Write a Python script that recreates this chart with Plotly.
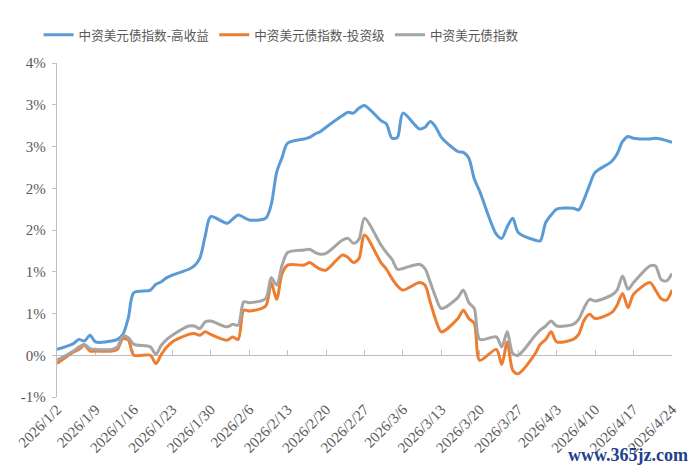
import plotly.graph_objects as go

dates = [
    "2026-01-02",
    "2026-01-05", "2026-01-06", "2026-01-07", "2026-01-08", "2026-01-09",
    "2026-01-12", "2026-01-13", "2026-01-14", "2026-01-15", "2026-01-16",
    "2026-01-19", "2026-01-20", "2026-01-21", "2026-01-22", "2026-01-23",
    "2026-01-26", "2026-01-27", "2026-01-28", "2026-01-29", "2026-01-30",
    "2026-02-02", "2026-02-03", "2026-02-04", "2026-02-05", "2026-02-06",
    "2026-02-09", "2026-02-10", "2026-02-11", "2026-02-12", "2026-02-13",
    "2026-02-16", "2026-02-17", "2026-02-18", "2026-02-19", "2026-02-20",
    "2026-02-23", "2026-02-24", "2026-02-25", "2026-02-26", "2026-02-27",
    "2026-03-02", "2026-03-03", "2026-03-04", "2026-03-05", "2026-03-06",
    "2026-03-09", "2026-03-10", "2026-03-11", "2026-03-12", "2026-03-13",
    "2026-03-16", "2026-03-17", "2026-03-18", "2026-03-19", "2026-03-20",
    "2026-03-23", "2026-03-24", "2026-03-25", "2026-03-26", "2026-03-27",
    "2026-03-30", "2026-03-31", "2026-04-01", "2026-04-02", "2026-04-03",
    "2026-04-06", "2026-04-07", "2026-04-08", "2026-04-09", "2026-04-10",
    "2026-04-13", "2026-04-14", "2026-04-15", "2026-04-16", "2026-04-17",
    "2026-04-20", "2026-04-21", "2026-04-22", "2026-04-23", "2026-04-24",
]

high_yield = [
    0.07,
    0.14, 0.19, 0.17, 0.24, 0.16,
    0.17, 0.19, 0.25, 0.45, 0.75,
    0.78, 0.85, 0.88, 0.93, 0.96,
    1.03, 1.07, 1.16, 1.43, 1.66,
    1.58, 1.63, 1.68, 1.65, 1.62,
    1.64, 1.80, 2.19, 2.37, 2.54,
    2.59, 2.61, 2.65, 2.68, 2.73,
    2.87, 2.91, 2.90, 2.96, 2.99,
    2.81, 2.77, 2.60, 2.61, 2.90,
    2.71, 2.73, 2.80, 2.73, 2.61,
    2.44, 2.43, 2.36, 2.11, 1.96,
    1.45, 1.40, 1.54, 1.64, 1.47,
    1.38, 1.37, 1.59, 1.68, 1.75,
    1.76, 1.74, 1.87, 2.04, 2.19,
    2.32, 2.41, 2.56, 2.62, 2.60,
    2.59, 2.60, 2.59, 2.57, 2.55,
]

invest_grade = [
    -0.10,
    0.04, 0.07, 0.12, 0.05, 0.05,
    0.05, 0.07, 0.20, 0.18, 0.00,
    0.00, -0.10, 0.01, 0.10, 0.16,
    0.25, 0.26, 0.24, 0.28, 0.25,
    0.18, 0.22, 0.19, 0.54, 0.53,
    0.59, 0.87, 0.67, 0.98, 1.08,
    1.08, 1.11, 1.07, 1.03, 1.02,
    1.20, 1.17, 1.11, 1.16, 1.44,
    1.11, 1.03, 0.92, 0.83, 0.78,
    0.87, 0.84, 0.63, 0.42, 0.28,
    0.44, 0.54, 0.44, 0.38, -0.06,
    0.07, -0.11, 0.16, -0.18, -0.22,
    0.01, 0.13, 0.19, 0.28, 0.16,
    0.19, 0.25, 0.42, 0.49, 0.44,
    0.51, 0.60, 0.74, 0.57, 0.73,
    0.87, 0.78, 0.68, 0.66, 0.78,
]

overall = [
    -0.06,
    0.05, 0.10, 0.13, 0.08, 0.07,
    0.07, 0.10, 0.23, 0.21, 0.13,
    0.10, 0.01, 0.12, 0.19, 0.24,
    0.35, 0.35, 0.32, 0.40, 0.41,
    0.34, 0.37, 0.36, 0.64, 0.63,
    0.68, 0.93, 0.84, 1.08, 1.23,
    1.26, 1.27, 1.23, 1.21, 1.22,
    1.38, 1.40, 1.34, 1.39, 1.64,
    1.32, 1.23, 1.15, 1.03, 1.04,
    1.09, 1.04, 0.87, 0.69, 0.56,
    0.69, 0.78, 0.63, 0.56, 0.19,
    0.22, 0.10, 0.28, 0.02, 0.00,
    0.23, 0.30, 0.35, 0.41, 0.35,
    0.37, 0.43, 0.57, 0.67, 0.65,
    0.72, 0.78, 0.95, 0.79, 0.87,
    1.07, 1.07, 0.91, 0.89, 0.98,
]

series_names = ["中资美元债指数-高收益", "中资美元债指数-投资级", "中资美元债指数"]
series_colors = ["#5B9BD5", "#ED7D31", "#A5A5A5"]

x_tick_dates = [
    "2026-01-02", "2026-01-09", "2026-01-16", "2026-01-23", "2026-01-30",
    "2026-02-06", "2026-02-13", "2026-02-20", "2026-02-27", "2026-03-06",
    "2026-03-13", "2026-03-20", "2026-03-27", "2026-04-03", "2026-04-10",
    "2026-04-17", "2026-04-24",
]
x_tick_labels = [
    "2026/1/2", "2026/1/9", "2026/1/16", "2026/1/23", "2026/1/30",
    "2026/2/6", "2026/2/13", "2026/2/20", "2026/2/27", "2026/3/6",
    "2026/3/13", "2026/3/20", "2026/3/27", "2026/4/3", "2026/4/10",
    "2026/4/17", "2026/4/24",
]
y_tick_vals = [-0.5, 0, 0.5, 1, 1.5, 2, 2.5, 3, 3.5]
y_tick_labels = ["-1%", "0%", "1%", "1%", "2%", "2%", "3%", "3%", "4%"]

fig = go.Figure()
for name, vals, color in zip(series_names, [high_yield, invest_grade, overall], series_colors):
    fig.add_trace(go.Scatter(
        x=dates, y=vals, name=name, mode="lines",
        line=dict(color=color, width=3, shape="spline", smoothing=0.8),
        hoverinfo="skip",
    ))

# helper trace to create the zero-crossing category axis
fig.add_trace(go.Scatter(x=[dates[0]], y=[0], xaxis="x2", mode="markers",
                         marker=dict(opacity=0), showlegend=False, hoverinfo="skip"))

axis_color = "#BFBFBF"
tick_font = dict(family="Liberation Serif", size=15, color="#595959")

fig.update_layout(
    width=698, height=472,
    margin=dict(l=57, r=26, t=63, b=75),
    paper_bgcolor="white", plot_bgcolor="white",
    showlegend=True,
    legend=dict(
        orientation="h", x=-0.03, xanchor="left", y=1.084, yanchor="middle",
        font=dict(family="Noto Sans CJK SC", size=12.6, color="#595959"),
        itemwidth=30, bgcolor="rgba(0,0,0,0)",
    ),
    xaxis=dict(
        type="date", range=[dates[0], dates[-1]],
        tickvals=x_tick_dates, ticktext=x_tick_labels, tickangle=-45,
        showline=False, showgrid=False, zeroline=False, ticks="",
        tickfont=tick_font,
    ),
    xaxis2=dict(
        type="date", overlaying="x", matches="x", anchor="free", position=0.125,
        side="bottom", tickvals=x_tick_dates, showticklabels=False,
        showline=True, linecolor=axis_color, linewidth=1.3,
        ticks="inside", ticklen=5, tickcolor=axis_color, tickwidth=1.3,
        showgrid=False, zeroline=False, layer="below traces",
    ),
    yaxis=dict(
        range=[-0.5, 3.5], tickvals=y_tick_vals, ticktext=y_tick_labels,
        showline=True, linecolor=axis_color, linewidth=1.3,
        ticks="outside", ticklen=4, tickcolor=axis_color, tickwidth=1.3,
        showgrid=False, zeroline=False, tickfont=tick_font,
        ticklabelstandoff=3, layer="below traces",
    ),
    annotations=[dict(
        text="www.365jz.com", xref="paper", yref="paper",
        x=1.03, xanchor="right", y=-0.175, yanchor="middle", showarrow=False,
        font=dict(family="Liberation Serif", size=18, color="#1F3F8F", weight="bold"),
    )],
)

fig.write_html("out.html")
